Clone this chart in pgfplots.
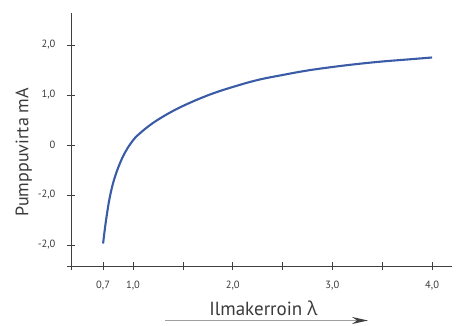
\documentclass[border=0pt]{standalone}
\usepackage{fontspec}
\setmainfont{PT Sans}
\newfontfamily\greekfont{Open Sans}
\usepackage{pgfplots}
\pgfplotsset{compat=1.18}
\usetikzlibrary{arrows.meta}
\definecolor{curveblue}{HTML}{3A5CA6}
\definecolor{axisgray}{HTML}{404040}
\definecolor{textgray}{HTML}{3A3A3A}
\begin{document}
\begin{tikzpicture}[x=1pt,y=1pt]
\useasboundingbox (-71,-60) rectangle (386,266);
\begin{axis}[
  at={(0,0)}, anchor=south west,
  scale only axis, width=381pt, height=253pt,
  xmin=0.378, xmax=4.2, ymin=-2.42, ymax=2.64,
  axis lines=left,
  axis line style={-, color=axisgray, line width=0.8pt, shorten <=-4pt},
  tick align=center,
  major tick length=8pt,
  tick style={color=axisgray, line width=0.7pt},
  xtick={0.7,1,1.5,2,2.5,3,3.5,4},
  xticklabels={{0,7},{1,0},{},{2,0},{},{3,0},{},{4,0}},
  ytick={-2,-1,0,1,2},
  yticklabels={{-2,0},{-2,0},{0},{1,0},{2,0}},
  ticklabel style={font=\fontsize{10.5}{12}\selectfont, color=textgray},
  xticklabel style={yshift=-7pt},
  yticklabel style={xshift=-8pt},
  xlabel={Ilmakerroin {\greekfont λ}},
  ylabel={Pumppuvirta mA},
  every axis x label/.style={at={(axis description cs:0.505,0)}, anchor=base, yshift=-49pt, font=\fontsize{19}{22}\selectfont, color=textgray},
  every axis y label/.style={at={(axis description cs:-0.124,0.45)}, anchor=center, rotate=90, font=\fontsize{18}{21}\selectfont, color=textgray},
  clip=false,
]
\addplot[color=curveblue, line width=2.1pt, smooth, tension=0.6] coordinates {
(0.700,-1.97)
(0.715,-1.72)
(0.735,-1.43)
(0.760,-1.12)
(0.790,-0.84)
(0.825,-0.60)
(0.870,-0.36)
(0.920,-0.15)
(0.980,0.04)
(1.050,0.20)
(1.200,0.44)
(1.400,0.68)
(1.600,0.87)
(1.800,1.03)
(2.000,1.16)
(2.250,1.30)
(2.500,1.40)
(2.750,1.49)
(3.000,1.56)
(3.250,1.62)
(3.500,1.67)
(3.750,1.71)
(4.000,1.75)
};
\end{axis}
\draw[color=gray!75, line width=1.8pt, -{Stealth[length=16pt,width=7pt,color=axisgray]}] (94,-54.5) -- (297,-54.5);
\end{tikzpicture}
\end{document}
